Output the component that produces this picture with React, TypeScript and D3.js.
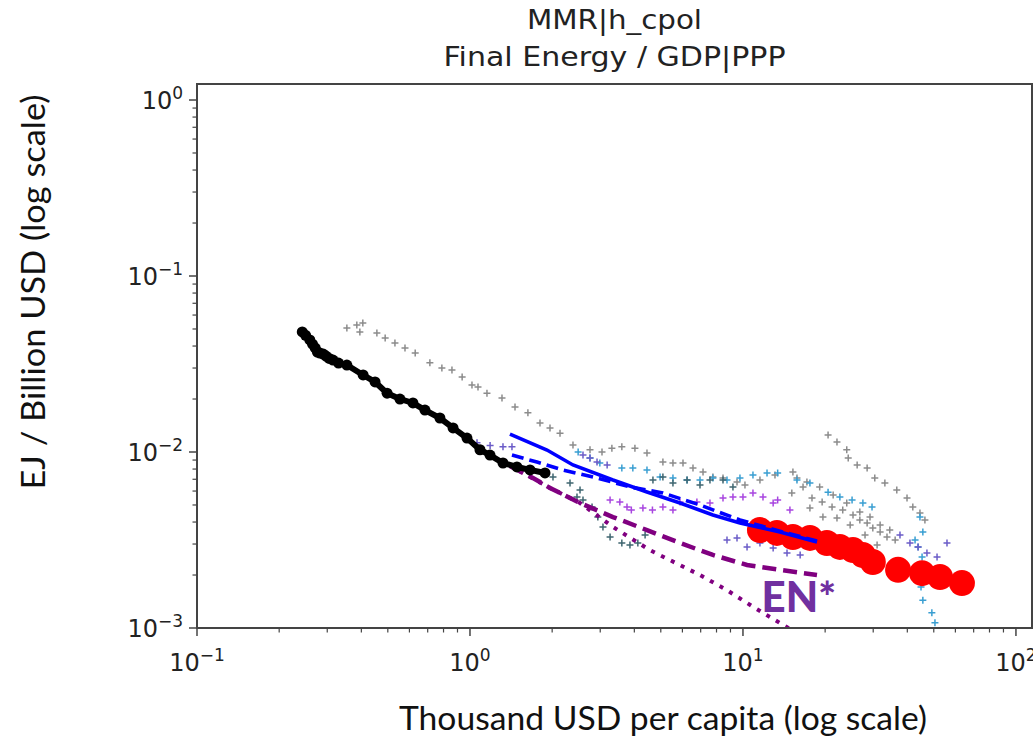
import React from 'react';
import * as d3 from 'd3';

type Pt = [number, number];

// chart text
const titleLines = ['MMR|h_cpol', 'Final Energy / GDP|PPP'];
const titleWidths = [175, 342];
const xLabel = 'Thousand USD per capita (log scale)';
const yLabel = 'EJ / Billion USD (log scale)';
const annotation = 'EN*';
const annotationAt: Pt = [11.7, 0.00123];

// ticks
const xMajor = [0.1, 1, 10, 100];
const xExp = ['−1', '0', '1', '2'];
const yMajor = [0.001, 0.01, 0.1, 1];
const yExp = ['−3', '−2', '−1', '0'];
const minorMult = [2, 3, 4, 5, 6, 7, 8, 9];

// historical country path (black)
const history: Pt[] = [
  [0.243, 0.0481], [0.25, 0.046], [0.259, 0.0433], [0.265, 0.041], [0.271, 0.039], [0.276, 0.037],
  [0.282, 0.0365], [0.29, 0.036], [0.297, 0.0351], [0.305, 0.034], [0.315, 0.0333], [0.33, 0.032],
  [0.354, 0.0312], [0.406, 0.0274], [0.449, 0.025], [0.497, 0.0216], [0.554, 0.02], [0.618, 0.019],
  [0.684, 0.0173], [0.776, 0.0156], [0.867, 0.0137], [0.975, 0.012], [1.088, 0.0103], [1.184, 0.0096],
  [1.321, 0.00866], [1.486, 0.00822], [1.659, 0.00791], [1.883, 0.0076],
];

// scenario lines
const blueSolid: Pt[] = [
  [1.401, 0.01265], [1.915, 0.01026], [2.384, 0.00844], [3.34, 0.00693], [4.45, 0.00593],
  [5.88, 0.00513], [7.76, 0.00439], [9.75, 0.00395], [13.66, 0.00351], [18.67, 0.00308],
];
const blueDashed: Pt[] = [
  [1.425, 0.00961], [1.759, 0.00877], [2.19, 0.00791], [2.92, 0.00712], [3.855, 0.00633],
  [5.09, 0.00585], [6.96, 0.005], [9.75, 0.00411], [13.66, 0.00355], [18.67, 0.00312],
];
const purpleDashed: Pt[] = [
  [1.401, 0.00832], [1.701, 0.00712], [1.964, 0.00625], [2.53, 0.00513], [3.34, 0.00427],
  [4.45, 0.0036], [5.88, 0.00304], [7.76, 0.0026], [10.35, 0.00228], [13.66, 0.00214], [18.67, 0.002],
];
const purpleDotted: Pt[] = [
  [1.401, 0.00832], [1.964, 0.00625], [2.53, 0.00513], [3.34, 0.00375], [4.56, 0.00277],
  [6.96, 0.002], [8.74, 0.00164], [10.88, 0.00132], [14.5, 0.00101], [15.6, 0.00093],
];

// projected country values (red)
const projection: Pt[] = [
  [11.54, 0.0036], [13.32, 0.00347], [15.24, 0.00329], [17.59, 0.00325], [20.3, 0.00304],
  [22.65, 0.00289], [25.3, 0.00277], [27.5, 0.0026], [29.9, 0.00237], [37.0, 0.00214],
  [45.3, 0.00205], [52.7, 0.00195], [63.4, 0.0018],
];

// comparison countries (crosses)
const greyA: Pt[] = [
  [0.354, 0.0507], [0.385, 0.0527], [0.405, 0.0541], [0.395, 0.0481], [0.456, 0.0475], [0.489, 0.0444],
  [0.531, 0.0416], [0.578, 0.039], [0.63, 0.0365], [0.713, 0.0321], [0.789, 0.03], [0.859, 0.0292],
  [0.936, 0.0267], [1.017, 0.024], [1.07, 0.0234], [1.154, 0.0216], [1.31, 0.0203], [1.462, 0.018],
  [1.63, 0.0167], [1.805, 0.0146], [1.964, 0.0137], [2.137, 0.0128], [2.384, 0.01096], [2.752, 0.0103],
  [3.045, 0.01], [3.31, 0.0105], [3.6, 0.0107], [4.02, 0.0105], [4.45, 0.00987], [5.09, 0.00877],
  [5.54, 0.00866], [6.03, 0.00866], [6.56, 0.00811], [7.14, 0.00769], [7.76, 0.00721], [8.45, 0.00712],
  [9.51, 0.00676],
];
const greyB: Pt[] = [
  [20.5, 0.0125], [22.1, 0.0114], [24.0, 0.0103], [24.3, 0.00924], [26.2, 0.00844], [28.5, 0.00811],
  [30.4, 0.00712], [33.1, 0.00667], [36.6, 0.00608], [39.9, 0.00548], [41.9, 0.00487], [44.5, 0.0045],
  [46.4, 0.00411],
];
const greyC: Pt[] = [
  [10.17, 0.0065], [11.54, 0.00693], [13.1, 0.0074], [15.24, 0.00769], [15.77, 0.00712], [16.6, 0.00633],
  [17.9, 0.00548], [19.5, 0.0052], [21.2, 0.00487], [23.2, 0.00468], [25.3, 0.00439], [26.8, 0.00411],
  [28.5, 0.00395], [29.9, 0.0037], [31.8, 0.00351], [33.7, 0.00329],
];
const greyD: Pt[] = [
  [15.1, 0.00585], [17.15, 0.00676], [19.1, 0.00633], [21.4, 0.0057], [24.0, 0.00513], [26.8, 0.00456],
  [29.2, 0.00427], [31.8, 0.00385], [34.5, 0.0036], [36.1, 0.00316],
];
const greyE: Pt[] = [
  [17.59, 0.00481], [19.63, 0.00427], [22.1, 0.00422], [24.7, 0.00385], [28.0, 0.00338], [31.0, 0.00296],
];
const lightBlueA: Pt[] = [
  [2.49, 0.01], [2.752, 0.00924], [2.99, 0.00866], [3.6, 0.00811], [3.95, 0.00811], [4.45, 0.00791],
  [4.97, 0.00721], [5.54, 0.00712], [6.24, 0.00693], [6.96, 0.00693], [7.76, 0.00712], [8.74, 0.00693],
  [9.75, 0.00712], [10.88, 0.0074], [12.25, 0.0076], [13.4, 0.0076], [15.77, 0.00693], [17.59, 0.00667],
  [20.5, 0.0059], [22.65, 0.00555], [25.1, 0.00533], [27.5, 0.00513], [29.7, 0.00487],
];
const lightBlueB: Pt[] = [
  [44.5, 0.00427], [45.6, 0.00351], [42.7, 0.00316], [43.8, 0.00289], [45.3, 0.00253], [44.5, 0.00214],
  [44.9, 0.00171], [45.6, 0.00144], [49.2, 0.00122], [50.5, 0.00107],
];
const violet: Pt[] = [
  [3.26, 0.00533], [3.54, 0.0052], [3.76, 0.00487], [3.9, 0.00468], [4.3, 0.00481], [4.66, 0.00468],
  [5.09, 0.00487], [5.54, 0.00468], [5.88, 0.0052], [6.78, 0.0052], [7.57, 0.00513], [8.45, 0.00548],
  [9.19, 0.00555], [10.0, 0.00555], [10.88, 0.00585], [11.84, 0.00555], [12.9, 0.00513], [13.4, 0.00533],
  [14.86, 0.00468],
];
const slateBlue: Pt[] = [
  [1.061, 0.0113], [1.185, 0.0109], [1.321, 0.0107], [1.425, 0.0107], [2.594, 0.00961], [2.752, 0.00924],
  [2.92, 0.00877], [3.18, 0.00844], [8.74, 0.00316], [9.51, 0.00325], [10.35, 0.00289], [11.54, 0.00304],
  [12.9, 0.00285], [14.5, 0.00267], [16.2, 0.0026], [37.6, 0.00338], [40.9, 0.00304], [43.8, 0.00289],
  [47.2, 0.00267], [51.4, 0.00253], [55.9, 0.00304],
];
const darkTeal: Pt[] = [
  [2.014, 0.00721], [2.325, 0.00667], [2.53, 0.00608], [2.466, 0.00555], [2.594, 0.00533], [2.8, 0.00487],
  [2.94, 0.00427], [3.07, 0.00375], [3.26, 0.00329], [3.6, 0.00304], [3.855, 0.00296], [4.12, 0.00304],
  [4.38, 0.00338], [4.68, 0.00693], [5.09, 0.00721], [5.54, 0.00667], [6.24, 0.00693], [6.96, 0.0065],
  [7.57, 0.00693], [8.45, 0.00693], [9.19, 0.00633],
];

const crossSeries: { pts: Pt[]; color: string }[] = [
  { pts: greyA, color: '#8c8c8c' },
  { pts: greyB, color: '#8c8c8c' },
  { pts: greyC, color: '#8c8c8c' },
  { pts: greyD, color: '#8c8c8c' },
  { pts: greyE, color: '#8c8c8c' },
  { pts: lightBlueA, color: '#3a9fd2' },
  { pts: lightBlueB, color: '#3a9fd2' },
  { pts: violet, color: '#a846e0' },
  { pts: slateBlue, color: '#6b5cc8' },
  { pts: darkTeal, color: '#3f6670' },
];

const W = 1033;
const H = 742;
const left = 197, right = 1032, top = 84, bottom = 628;

const App: React.FC = () => {
  const x = d3.scaleLog().domain([0.1, 114.5]).range([left, right]);
  const y = d3.scaleLog().domain([0.001, 1.233]).range([bottom, top]);
  const line = d3.line<Pt>().x(d => x(d[0])).y(d => y(d[1]));

  const xMinor = xMajor.slice(0, -1).flatMap(m => minorMult.map(k => k * m));
  const yMinor = yMajor.slice(0, -1).flatMap(m => minorMult.map(k => k * m));

  const cross = (d: Pt) => {
    const cx = x(d[0]), cy = y(d[1]);
    return `M${cx - 3.5},${cy}h7M${cx},${cy - 3.5}v7`;
  };

  const tickFont = "'DejaVu Sans', sans-serif";
  const labelFont = "Lato, 'Open Sans', sans-serif";

  return (
    <svg width={W} height={H} style={{ position: 'absolute', left: 0, top: 0, background: '#fff' }}>
      <defs>
        <clipPath id="plot">
          <rect x={left} y={top} width={right - left} height={bottom - top} />
        </clipPath>
      </defs>

      {/* title */}
      {titleLines.map((t, i) => (
        <text key={t} x={(left + right) / 2} y={29 + i * 37} textAnchor="middle"
          fontFamily={tickFont} fontSize={27} fill="#222"
          textLength={titleWidths[i]} lengthAdjust="spacingAndGlyphs">{t}</text>
      ))}

      <g clipPath="url(#plot)">
        {crossSeries.map((s, i) => (
          <path key={i} d={s.pts.map(cross).join('')} stroke={s.color} strokeWidth={1.5} fill="none" />
        ))}
        {projection.map((d, i) => (
          <circle key={i} cx={x(d[0])} cy={y(d[1])} r={13} fill="#ff0000" />
        ))}
        <path d={line(purpleDotted) || ''} fill="none" stroke="#800080" strokeWidth={4} strokeDasharray="4,7" />
        <path d={line(purpleDashed) || ''} fill="none" stroke="#800080" strokeWidth={4.5} strokeDasharray="14,7" />
        <path d={line(blueDashed) || ''} fill="none" stroke="#0000ff" strokeWidth={3.6} strokeDasharray="12,6" />
        <path d={line(blueSolid) || ''} fill="none" stroke="#0000ff" strokeWidth={3.6} />
        <path d={line(history) || ''} fill="none" stroke="#000" strokeWidth={6} />
        {history.map((d, i) => (
          <circle key={i} cx={x(d[0])} cy={y(d[1])} r={5.5} fill="#000" />
        ))}
      </g>

      <text x={x(annotationAt[0])} y={y(annotationAt[1])} fontFamily={labelFont} fontWeight={900}
        fontSize={42} fill="#7030a0">{annotation}</text>

      {/* frame */}
      <rect x={left} y={top} width={right - left} height={bottom - top} fill="none" stroke="#444" strokeWidth={2} />

      {/* x ticks */}
      {xMajor.map((v, i) => (
        <g key={v}>
          <line x1={x(v)} x2={x(v)} y1={bottom} y2={bottom + 8} stroke="#444" strokeWidth={1.5} />
          <text x={x(v)} y={671} textAnchor="middle" fontFamily={tickFont} fontSize={24} fill="#222">
            10<tspan dy={-10} fontSize={17}>{xExp[i]}</tspan>
          </text>
        </g>
      ))}
      {xMinor.map(v => (
        <line key={v} x1={x(v)} x2={x(v)} y1={bottom} y2={bottom + 4.5} stroke="#444" strokeWidth={1.2} />
      ))}

      {/* y ticks */}
      {yMajor.map((v, i) => (
        <g key={v}>
          <line x1={left - 8} x2={left} y1={y(v)} y2={y(v)} stroke="#444" strokeWidth={1.5} />
          <text x={183} y={y(v) + 9} textAnchor="end" fontFamily={tickFont} fontSize={24} fill="#222">
            10<tspan dy={-10} fontSize={17}>{yExp[i]}</tspan>
          </text>
        </g>
      ))}
      {yMinor.map(v => (
        <line key={v} x1={left - 4.5} x2={left} y1={y(v)} y2={y(v)} stroke="#444" strokeWidth={1.2} />
      ))}

      {/* axis labels */}
      <text x={663} y={730} textAnchor="middle" fontFamily={labelFont} fontSize={32} fill="#111"
        textLength={528} lengthAdjust="spacingAndGlyphs">{xLabel}</text>
      <text transform={`translate(45, 292) rotate(-90)`} textAnchor="middle" fontFamily={labelFont}
        fontSize={32} fill="#111" textLength={395} lengthAdjust="spacingAndGlyphs">{yLabel}</text>
    </svg>
  );
};

export default App;
